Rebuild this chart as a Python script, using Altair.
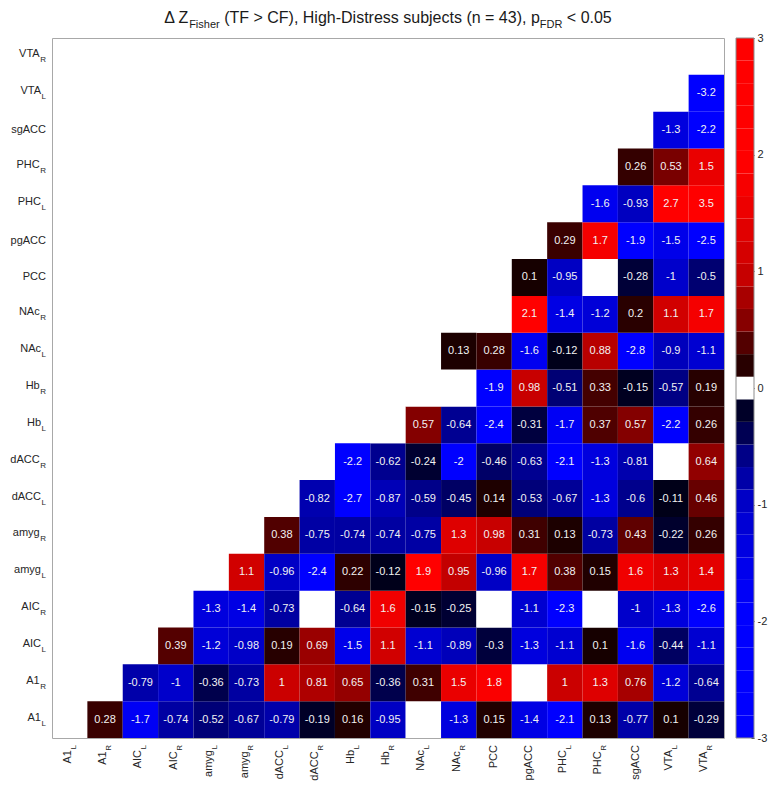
import altair as alt
import pandas as pd

# ---------------- data ----------------
regions = ["A1_L", "A1_R", "AIC_L", "AIC_R", "amyg_L", "amyg_R", "dACC_L", "dACC_R",
           "Hb_L", "Hb_R", "NAc_L", "NAc_R", "PCC", "pgACC", "PHC_L", "PHC_R",
           "sgACC", "VTA_L", "VTA_R"]
label_base = ["A1", "A1", "AIC", "AIC", "amyg", "amyg", "dACC", "dACC", "Hb", "Hb",
              "NAc", "NAc", "PCC", "pgACC", "PHC", "PHC", "sgACC", "VTA", "VTA"]
label_sub = ["L", "R", "L", "R", "L", "R", "L", "R", "L", "R", "L", "R",
             "", "", "L", "R", "", "L", "R"]

# upper triangle, one list per row region (values vs. every later region); 0 = n.s.
A1_L_row = [0.28, -1.7, -0.74, -0.52, -0.67, -0.79, -0.19, 0.16, -0.95, 0, -1.3, 0.15, -1.4, -2.1, 0.13, -0.77, 0.1, -0.29]
A1_R_row = [-0.79, -1, -0.36, -0.73, 1, 0.81, 0.65, -0.36, 0.31, 1.5, 1.8, 0, 1, 1.3, 0.76, -1.2, -0.64]
AIC_L_row = [0.39, -1.2, -0.98, 0.19, 0.69, -1.5, 1.1, -1.1, -0.89, -0.3, -1.3, -1.1, 0.1, -1.6, -0.44, -1.1]
AIC_R_row = [-1.3, -1.4, -0.73, 0, -0.64, 1.6, -0.15, -0.25, 0, -1.1, -2.3, 0, -1, -1.3, -2.6]
amyg_L_row = [1.1, -0.96, -2.4, 0.22, -0.12, 1.9, 0.95, -0.96, 1.7, 0.38, 0.15, 1.6, 1.3, 1.4]
amyg_R_row = [0.38, -0.75, -0.74, -0.74, -0.75, 1.3, 0.98, 0.31, 0.13, -0.73, 0.43, -0.22, 0.26]
dACC_L_row = [-0.82, -2.7, -0.87, -0.59, -0.45, 0.14, -0.53, -0.67, -1.3, -0.6, -0.11, 0.46]
dACC_R_row = [-2.2, -0.62, -0.24, -2, -0.46, -0.63, -2.1, -1.3, -0.81, 0, 0.64]
Hb_L_row = [0, 0.57, -0.64, -2.4, -0.31, -1.7, 0.37, 0.57, -2.2, 0.26]
Hb_R_row = [0, 0, -1.9, 0.98, -0.51, 0.33, -0.15, -0.57, 0.19]
NAc_L_row = [0.13, 0.28, -1.6, -0.12, 0.88, -2.8, -0.9, -1.1]
NAc_R_row = [0, 2.1, -1.4, -1.2, 0.2, 1.1, 1.7]
PCC_row = [0.1, -0.95, 0, -0.28, -1, -0.5]
pgACC_row = [0.29, 1.7, -1.9, -1.5, -2.5]
PHC_L_row = [-1.6, -0.93, 2.7, 3.5]
PHC_R_row = [0.26, 0.53, 1.5]
sgACC_row = [-1.3, -2.2]
VTA_L_row = [-3.2]
VTA_R_row = []

all_rows = [A1_L_row, A1_R_row, AIC_L_row, AIC_R_row, amyg_L_row, amyg_R_row,
            dACC_L_row, dACC_R_row, Hb_L_row, Hb_R_row, NAc_L_row, NAc_R_row,
            PCC_row, pgACC_row, PHC_L_row, PHC_R_row, sgACC_row, VTA_L_row, VTA_R_row]

colorbar_domain = [-3, 3]
colorbar_ticks = [-3, -2, -1, 0, 1, 2, 3]

# ---------------- tables ----------------
recs = []
for i, row in enumerate(all_rows):
    for k, v in enumerate(row):
        j = i + 1 + k
        recs.append({"row": regions[i], "col": regions[j], "value": float(v),
                     "label": format(float(v), "g") if v != 0 else ""})
cells = pd.DataFrame(recs)
labels = pd.DataFrame({"key": regions, "base": label_base, "sub": label_sub})

# ---------------- layout / style ----------------
W, H = 672, 700
FONT = "Liberation Sans"
TXT = "#262626"

stops = [-3, -1.9, -1.6, -1.3, -1.0, -0.8, -0.6, -0.45, -0.3, -0.1, 0,
         0.1, 0.3, 0.45, 0.6, 0.8, 1.0, 1.3, 1.6, 1.9, 3]
neg_i = [255, 255, 240, 222, 203, 172, 140, 100, 60, 22]
colors = [f"rgb(0,0,{v})" for v in neg_i] + ["#ffffff"] + [f"rgb({v},0,0)" for v in neg_i[::-1]]
cscale = alt.Scale(domain=stops, range=colors, interpolate="rgb", clamp=True)

xs = alt.Scale(domain=regions, paddingInner=0, paddingOuter=0)
ys = alt.Scale(domain=regions[::-1], paddingInner=0, paddingOuter=0)

heat = alt.Chart(cells).mark_rect().encode(
    x=alt.X("col:N", scale=xs, axis=None),
    y=alt.Y("row:N", scale=ys, axis=None),
    color=alt.Color("value:Q", scale=cscale, legend=None),
)

vals = alt.Chart(cells).transform_filter("datum.value != 0").mark_text(
    font=FONT, fontSize=11, color="#f2f2f2"
).encode(
    x=alt.X("col:N", scale=xs, axis=None),
    y=alt.Y("row:N", scale=ys, axis=None),
    text="label:N",
)

SUBW = {"L": 5.0, "R": 6.3, "": 0.0}

def ylab(sub_kind):
    flt = f"datum.sub == '{sub_kind}'"
    return alt.Chart(labels).transform_filter(flt).mark_text(
        font=FONT, fontSize=11, color=TXT, align="right", baseline="middle",
        dx=-SUBW[sub_kind], dy=(-2 if sub_kind else 0)
    ).encode(y=alt.Y("key:N", scale=ys, axis=None), x=alt.value(-6), text="base:N")

def xlab(sub_kind):
    flt = f"datum.sub == '{sub_kind}'"
    return alt.Chart(labels).transform_filter(flt).mark_text(
        font=FONT, fontSize=11, color=TXT, align="right", baseline="middle", angle=270,
        dx=-SUBW[sub_kind], dy=(-2 if sub_kind else 0)
    ).encode(x=alt.X("key:N", scale=xs, axis=None), y=alt.value(H + 7), text="base:N")

ysub = alt.Chart(labels).transform_filter("datum.sub != ''").mark_text(
    font=FONT, fontSize=8, color=TXT, align="right", baseline="middle", dy=4
).encode(y=alt.Y("key:N", scale=ys, axis=None), x=alt.value(-6), text="sub:N")

xsub = alt.Chart(labels).transform_filter("datum.sub != ''").mark_text(
    font=FONT, fontSize=8, color=TXT, align="right", baseline="middle", angle=270, dy=4
).encode(x=alt.X("key:N", scale=xs, axis=None), y=alt.value(H + 7), text="sub:N")

# ---------------- title built from parts (subscripts) ----------------
AFM = {' ': 278, '(': 333, ')': 333, 'T': 611, 'F': 611, '>': 584, '<': 584, 'C': 722,
       ',': 278, 'H': 722, 'i': 222, 'g': 556, 'h': 556, '-': 333, 'D': 722, 's': 500,
       't': 278, 'r': 333, 'e': 556, 'u': 556, 'b': 556, 'j': 222, 'c': 500, 'n': 556,
       '=': 584, '4': 556, '3': 556, 'p': 556, '0': 556, '.': 278, '5': 556, 'Z': 611,
       'Δ': 668, 'R': 722, 'L': 556}

def tw(s, size):
    return sum(AFM.get(ch, 556) for ch in s) * size / 1000.0

TS, SS = 16, 11
parts = [("Δ Z", TS, 0), ("Fisher", SS, 1), (" (TF > CF), High-Distress subjects (n = 43), p", TS, 0),
         ("FDR", SS, 1), (" < 0.05", TS, 0)]
total = sum(tw(t, s) for t, s, _ in parts)
cur = W / 2 - total / 2
title_layers = []
one = pd.DataFrame({"t": [0]})
for t, s, is_sub in parts:
    lead = len(t) - len(t.lstrip(" "))
    x0 = cur + tw(" " * lead, s)
    title_layers.append(
        alt.Chart(one).mark_text(font=FONT, fontSize=s, color="#1a1a1a", align="left",
                                 baseline="alphabetic", text=t.strip(" "))
        .encode(x=alt.value(x0), y=alt.value(-10 if is_sub else -15))
    )
    cur += tw(t, s)

main = alt.layer(heat, vals, ylab("L"), ylab("R"), ylab(""), ysub,
                 xlab("L"), xlab("R"), xlab(""), xsub, *title_layers)

# ---------------- colorbar ----------------
NLEV = 31
cb_y = alt.Scale(domain=colorbar_domain, nice=False, zero=False)
cbar = alt.Chart(alt.sequence(0, NLEV, 1, as_="k")).transform_calculate(
    lo=f"-3 + datum.k * 6 / {NLEV}",
    hi=f"-3 + (datum.k + 1) * 6 / {NLEV}",
    mid=f"-3 + (datum.k + 0.5) * 6 / {NLEV}",
).mark_rect().encode(
    y=alt.Y("lo:Q", scale=cb_y,
            axis=alt.Axis(orient="right", offset=27, values=colorbar_ticks, tickSize=3,
                          tickColor="#333333", domain=False, grid=False, title=None,
                          labelFont=FONT, labelFontSize=11, labelColor=TXT, labelPadding=3,
                          labelExpr="'' + datum.value")),
    y2="hi:Q",
    x=alt.value(W + 12),
    x2=alt.value(W + 30),
    color=alt.Color("mid:Q", scale=cscale, legend=None),
)
cb_frame = alt.Chart(pd.DataFrame({"lo": [colorbar_domain[0]], "hi": [colorbar_domain[1]]})).mark_rect(
    fill=None, stroke="#8c8c8c", strokeWidth=1
).encode(
    y=alt.Y("lo:Q", scale=cb_y), y2="hi:Q", x=alt.value(W + 12), x2=alt.value(W + 30)
)
colorbar = alt.layer(cbar, cb_frame)

chart = alt.layer(main, colorbar).resolve_scale(y="independent").properties(
    width=W, height=H, padding=2
).configure_view(stroke="#a8a8a8", strokeWidth=1)

chart.save("out.html", embed_options={"renderer": "svg", "actions": False})
